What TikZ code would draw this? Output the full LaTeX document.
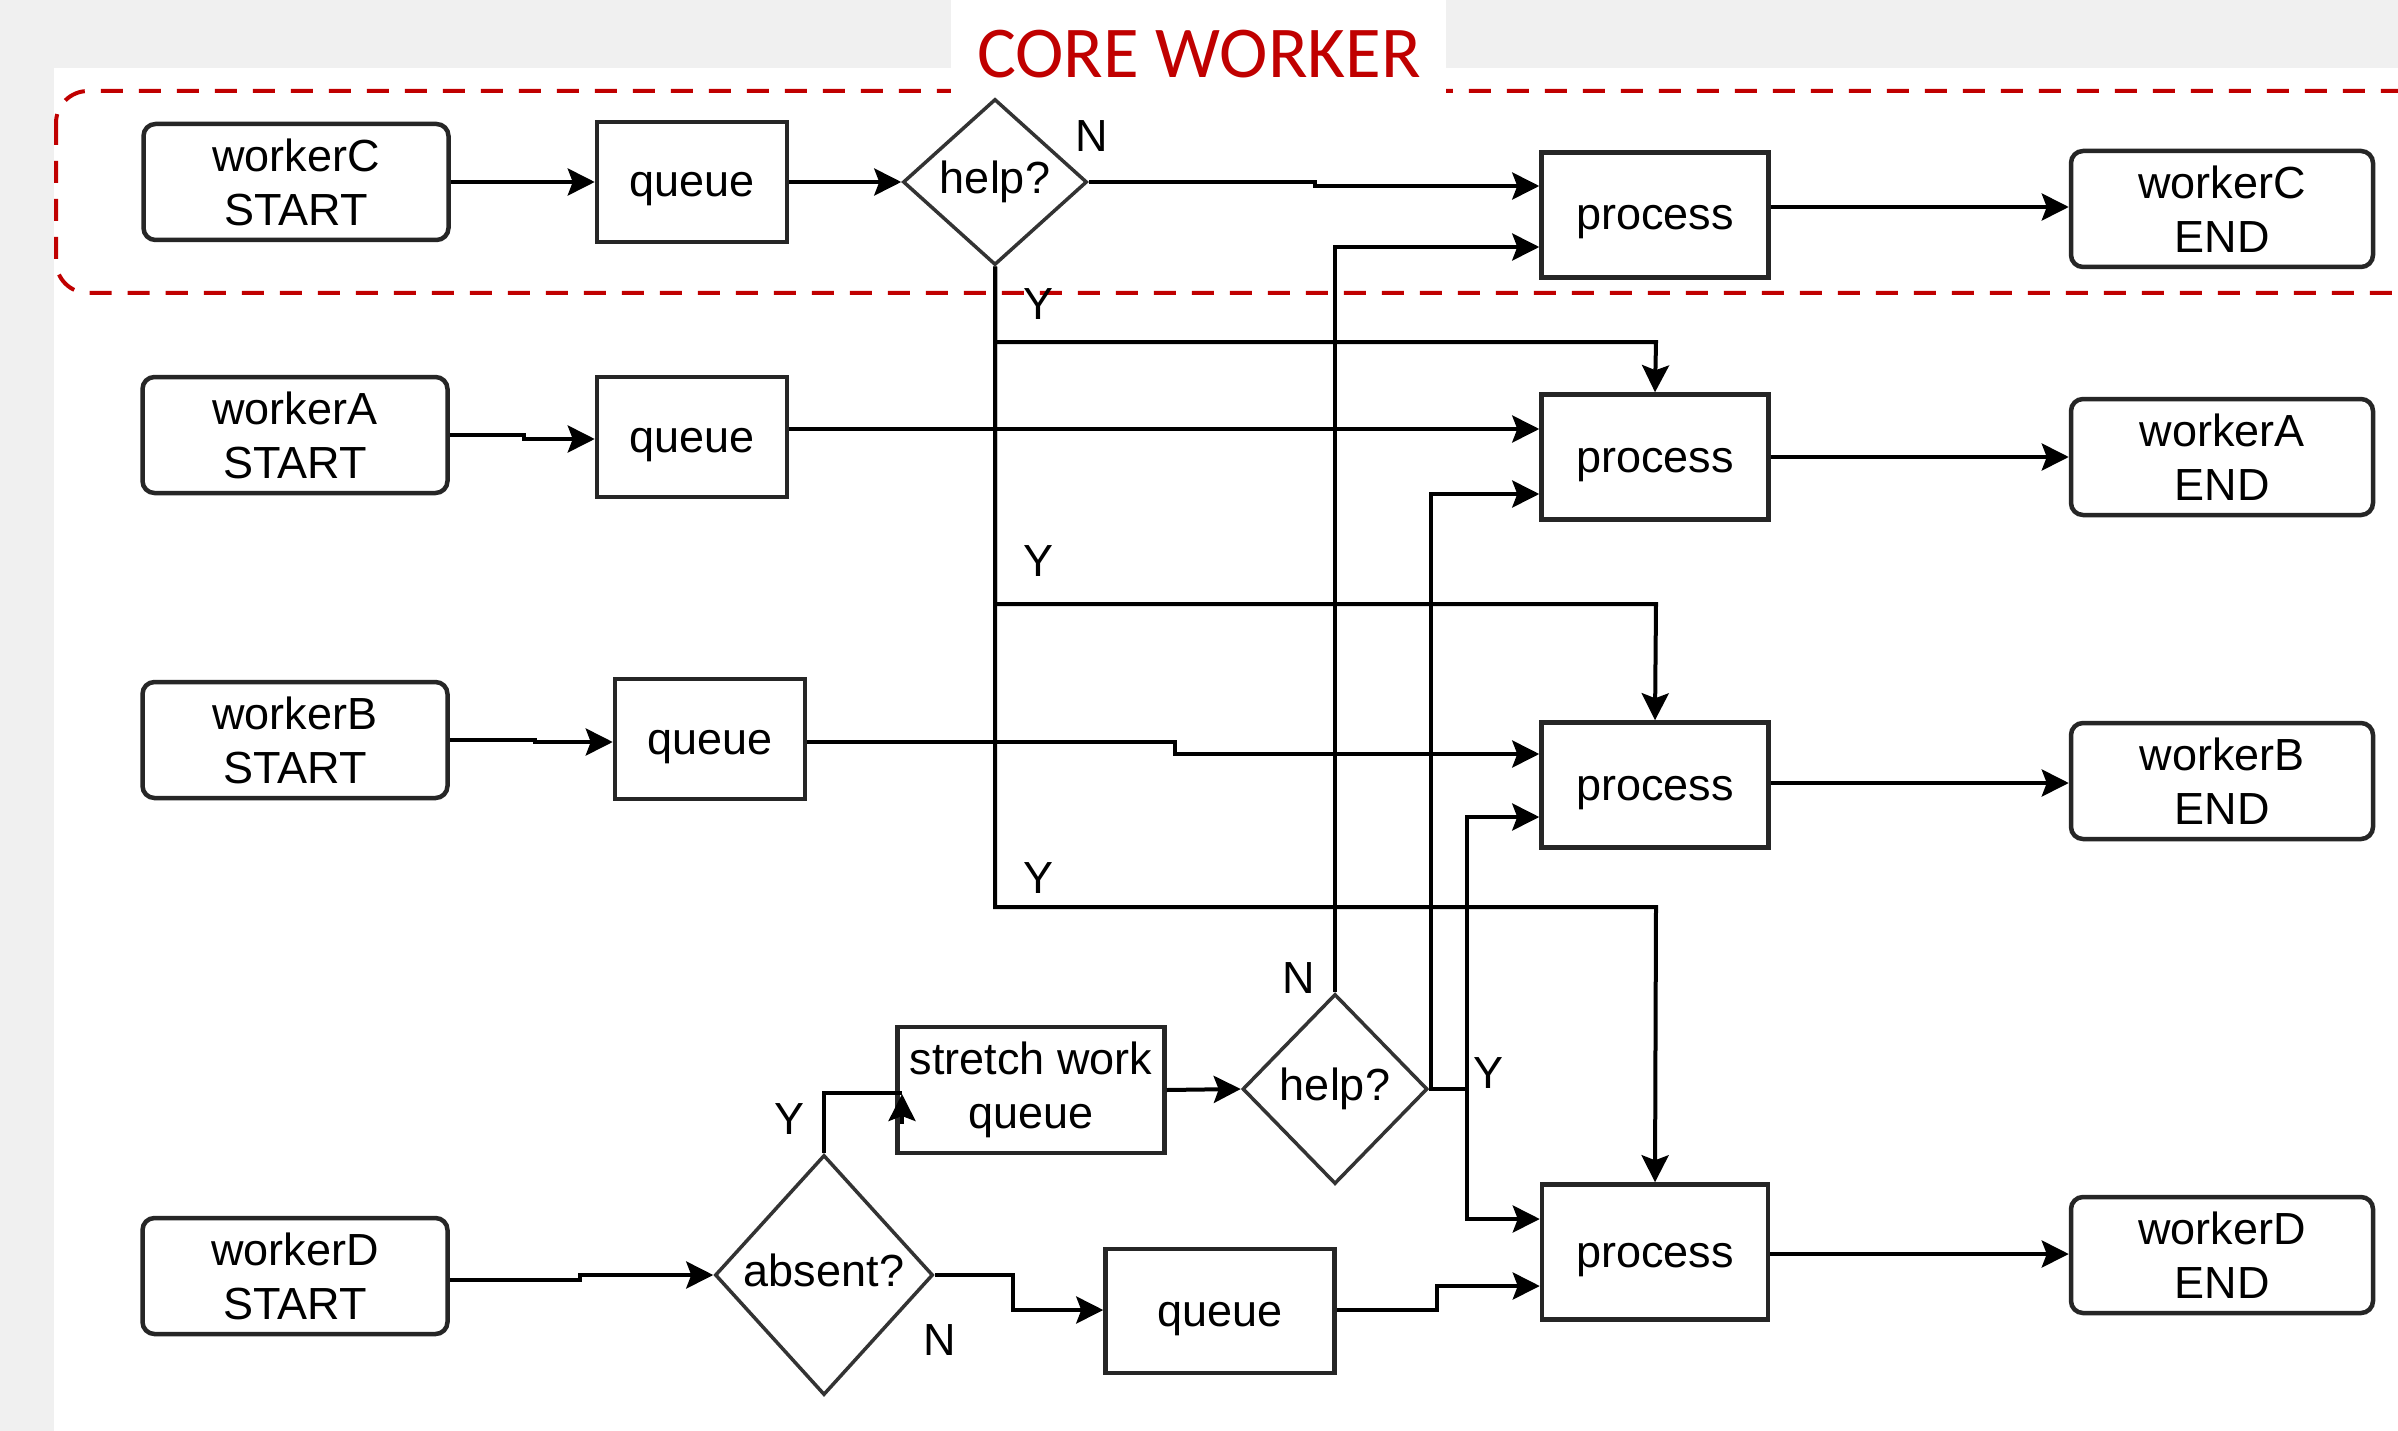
\documentclass[tikz,border=0pt]{standalone}
\usepackage{fontspec}
\setmainfont{Liberation Sans}
\newfontfamily\titlefont{Carlito}
\usetikzlibrary{shapes.geometric,arrows.meta,calc}
\definecolor{corered}{HTML}{C00000}
\definecolor{bggray}{HTML}{F0F0F0}
\begin{document}
\begin{tikzpicture}[x=1pt,y=-1pt,
  every node/.style={font=\fontsize{45}{54}\selectfont, inner sep=0pt},
  termbox/.style={draw=black!85, line width=4.5pt, rounded corners=12pt, minimum width=305pt, minimum height=116pt, align=center, fill=white},
  procbox/.style={draw=black!85, line width=4.5pt, align=center, fill=white},
  oneline/.style={text height=32pt, text depth=2pt},
  decbox/.style={diamond, draw=black!80, line width=3.5pt, align=center, fill=white, text height=33pt, text depth=10pt},
  qsize/.style={minimum width=190pt, minimum height=120pt},
  psize/.style={minimum width=227pt, minimum height=125pt},
  conn/.style={line width=4pt, -{Stealth[length=27pt,width=27pt,inset=5pt]}},
  plainline/.style={line width=4pt},
  lbl/.style={font=\fontsize{45}{54}\selectfont}
]
% background
\fill[bggray] (0,0) rectangle (2398,1431);
\fill[white] (54,68) rectangle (2398,1431);
\useasboundingbox (0,0) rectangle (2398,1431);
\begin{scope}
\clip (0,0) rectangle (2398,1431);
\draw[corered, line width=4pt, dash pattern=on 22pt off 16pt, rounded corners=32pt] (56,91) rectangle (2470,293);
\end{scope}
\node[fill=white, minimum width=495pt, minimum height=97pt, anchor=north west] (titlebg) at (951,0) {};
\node[text=corered, font=\titlefont\fontsize{73}{80}\selectfont, anchor=base] (title) at (1199,78) {CORE WORKER};

% row C
\node[termbox] (sC) at (296,182) {workerC\\START};
\node[procbox, oneline, qsize] (qC) at (692,182) {queue};
\node[decbox, minimum width=184pt, minimum height=166pt] (hC) at (995,182) {help?};
\node[procbox, oneline, psize] (pC) at (1655,215) {process};
\node[termbox, minimum width=302pt] (eC) at (2222,209) {workerC\\END};

% row A
\node[termbox] (sA) at (295,435) {workerA\\START};
\node[procbox, oneline, qsize] (qA) at (692,437) {queue};
\node[procbox, oneline, psize] (pA) at (1655,457) {process};
\node[termbox, minimum width=302pt] (eA) at (2222,457) {workerA\\END};

% row B
\node[termbox] (sB) at (295,740) {workerB\\START};
\node[procbox, oneline, qsize] (qB) at (710,739) {queue};
\node[procbox, oneline, psize] (pB) at (1655,785) {process};
\node[termbox, minimum width=302pt] (eB) at (2222,781) {workerB\\END};

% row D
\node[termbox] (sD) at (295,1276) {workerD\\START};
\node[decbox, minimum width=218pt, minimum height=240pt] (absent) at (824,1275) {absent?};
\node[procbox, minimum width=267pt, minimum height=126pt] (stretch) at (1031,1090) {stretch work\\queue};
\node[decbox, minimum width=185pt, minimum height=190pt] (hD) at (1335,1089) {help?};
\node[procbox, oneline, minimum width=229pt, minimum height=124pt] (qD) at (1220,1311) {queue};
\node[procbox, oneline, minimum width=226pt, minimum height=135pt] (pD) at (1655,1252) {process};
\node[termbox, minimum width=302pt] (eD) at (2222,1255) {workerD\\END};

% connectors row C
\draw[conn] (sC.east) -- (qC.west);
\draw[conn] (qC.east) -- (hC.west);
\draw[conn] (hC.east) -- (1315,182) -- (1315,186) -- (pC.west |- 0,186);
\draw[conn] (pC.east |- 0,207) -- (eC.west |- 0,207);

% Y branches of help? C
\draw[conn] (hC.south) |- (1656,342) -- (pA.north);
\draw[conn] (hC.south) |- (1656,604) -- (pB.north);
\draw[conn] (hC.south) |- (1656,907) -- (pD.north);

% N of help? D
\draw[conn] (hD.north) |- (pC.west |- 0,247);

% Y of help? D
\draw[conn] (hD.east) -| (1431,494) -- (pA.west |- 0,494);
\draw[conn] (hD.east) -| (1467,817) -- (pB.west |- 0,817);
\draw[conn] (hD.east) -| (1467,1219) -- (pD.west |- 0,1219);

% row A
\draw[conn] (sA.east) -- (524,435) -- (524,439) -- (qA.west |- 0,439);
\draw[conn] (qA.east |- 0,429) -- (pA.west |- 0,429);
\draw[conn] (pA.east) -- (eA.west);

% row B
\draw[conn] (sB.east) -- (535,740) -- (535,742) -- (qB.west |- 0,742);
\draw[conn] (qB.east |- 0,742) -- (1175,742) -- (1175,754) -- (pB.west |- 0,754);
\draw[conn] (pB.east |- 0,783) -- (eB.west |- 0,783);

% row D
\draw[conn] (sD.east |- 0,1280) -- (580,1280) -- (580,1275) -- (absent.west);
\draw[conn] (absent.east) -- (1013,1275) |- (qD.west |- 0,1310);
\coordinate (yEnd) at (902,1093);
\draw[plainline] (absent.north) |- (yEnd);
\draw[conn] (902,1124) -- (902,1094);
\draw[conn] (stretch.east) -- (hD.west);
\draw[conn] (qD.east |- 0,1310) -- (1437,1310) -- (1437,1286) -- (pD.west |- 0,1286);
\draw[conn] (pD.east |- 0,1254) -- (eD.west |- 0,1254);

% labels
\node[lbl] (lN1) at (1092,136) {N};
\node[lbl] (lY1) at (1038,304) {Y};
\node[lbl] (lY2) at (1038,561) {Y};
\node[lbl] (lY3) at (1038,878) {Y};
\node[lbl] (lN2) at (1299,978) {N};
\node[lbl] (lY4) at (1488,1073) {Y};
\node[lbl] (lY5) at (789,1119) {Y};
\node[lbl] (lN3) at (940,1340) {N};
\end{tikzpicture}
\end{document}
